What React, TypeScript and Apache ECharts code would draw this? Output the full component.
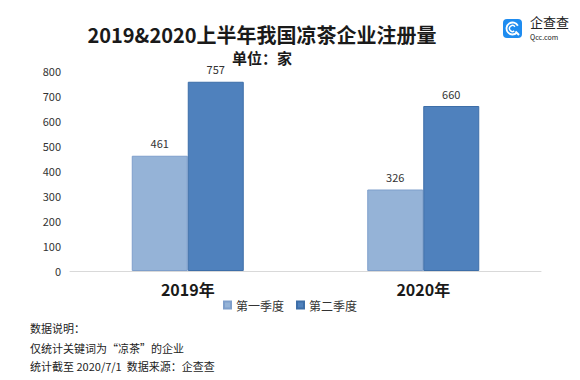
import React, { useEffect, useRef } from "react";
import * as echarts from "echarts";

const categories = ["2019年", "2020年"];
const seriesNames = ["第一季度", "第二季度"];
const q1Values = [461, 326];
const q2Values = [757, 660];
const yTicks = [0, 100, 200, 300, 400, 500, 600, 700, 800];
const titleText = "2019&2020上半年我国凉茶企业注册量";
const subtitleText = "单位：家";
const notes = ["数据说明：", "仅统计关键词为“凉茶”的企业", "统计截至 2020/7/1  数据来源：企查查"];

const FONT = "'Noto Sans CJK SC', 'Noto Sans', sans-serif";

export default function App() {
  const ref = useRef<HTMLDivElement>(null);
  useEffect(() => {
    if (!ref.current) return;
    const chart = echarts.init(ref.current, undefined, { renderer: "svg" });
    const option: any = {
      animation: false,
      backgroundColor: "#ffffff",
      textStyle: { fontFamily: FONT },
      title: [
        {
          text: titleText,
          left: 257,
          top: 18,
          textAlign: "center",
          textStyle: { fontSize: 20, lineHeight: 22, fontWeight: "bold", color: "#1a1a1a", fontFamily: FONT },
        },
        {
          text: subtitleText,
          left: 257,
          top: 44,
          textAlign: "center",
          textStyle: { fontSize: 15, lineHeight: 16, fontWeight: "bold", color: "#1a1a1a", fontFamily: FONT },
        },
      ],
      legend: {
        data: seriesNames,
        left: "center",
        top: 294,
        itemWidth: 7,
        itemHeight: 7,
        itemGap: 12,
        icon: "rect",
        textStyle: { fontSize: 12, color: "#333", fontFamily: FONT },
      },
      grid: { left: 70, right: 39, top: 71, bottom: 109 },
      xAxis: {
        type: "category",
        data: categories,
        axisLine: { lineStyle: { color: "#d9d9d9", width: 1 } },
        axisTick: { show: false },
        axisLabel: { fontSize: 16, fontWeight: "bold", color: "#1a1a1a", margin: 10, fontFamily: FONT },
      },
      yAxis: {
        type: "value",
        min: yTicks[0],
        max: yTicks[yTicks.length - 1],
        interval: 100,
        axisLine: { show: false },
        axisTick: { show: false },
        splitLine: { show: false },
        axisLabel: { fontSize: 11, color: "#333", margin: 9, fontFamily: FONT },
      },
      series: [
        {
          name: seriesNames[0],
          type: "bar",
          data: q1Values,
          barWidth: 56,
          barGap: "0%",
          itemStyle: { color: "#95b3d7", borderColor: "#7f9fcb", borderWidth: 1 },
          label: { show: true, position: "top", distance: 7, fontSize: 11, color: "#333", fontFamily: FONT },
        },
        {
          name: seriesNames[1],
          type: "bar",
          data: q2Values,
          barWidth: 56,
          barGap: "0%",
          itemStyle: { color: "#4f81bd", borderColor: "#3d6ea8", borderWidth: 1 },
          label: { show: true, position: "top", distance: 7, fontSize: 11, color: "#333", fontFamily: FONT },
        },
      ],
      graphic: [
        ...notes.map((t, i) => ({
          type: "text",
          left: 30,
          top: [321, 341, 359][i],
          style: { text: t, fontSize: 11, lineHeight: 13, fill: "#222", fontFamily: FONT },
        })),
        {
          type: "group",
          left: 503,
          top: 19,
          children: [
            { type: "rect", shape: { x: 0, y: 0, width: 19, height: 19, r: 4 }, style: { fill: "#1e8cf0" } },
            { type: "arc", shape: { cx: 9.5, cy: 9.5, r: 6, startAngle: Math.PI * 0.25, endAngle: Math.PI * 1.85 }, style: { stroke: "#fff", lineWidth: 1.8, fill: "none" } },
            { type: "arc", shape: { cx: 9.5, cy: 9.5, r: 3, startAngle: Math.PI * 0.3, endAngle: Math.PI * 1.8 }, style: { stroke: "#fff", lineWidth: 1.4, fill: "none" } },
            { type: "line", shape: { x1: 12.5, y1: 12.5, x2: 16, y2: 16 }, style: { stroke: "#fff", lineWidth: 2 } },
          ],
        },
        {
          type: "text",
          left: 530,
          top: 15,
          style: { text: "企查查", fontSize: 13, lineHeight: 13, fill: "#222", fontFamily: FONT },
        },
        {
          type: "text",
          left: 530,
          top: 33,
          style: { text: "Qcc.com", fontSize: 7, lineHeight: 7, fill: "#222", fontFamily: FONT, letterSpacing: 1 },
        },
      ],
    };
    chart.setOption(option);
    return () => chart.dispose();
  }, []);
  return (
    <div
      ref={ref}
      style={{ position: "fixed", left: 0, top: 0, width: 580, height: 380, background: "#fff" }}
    />
  );
}
